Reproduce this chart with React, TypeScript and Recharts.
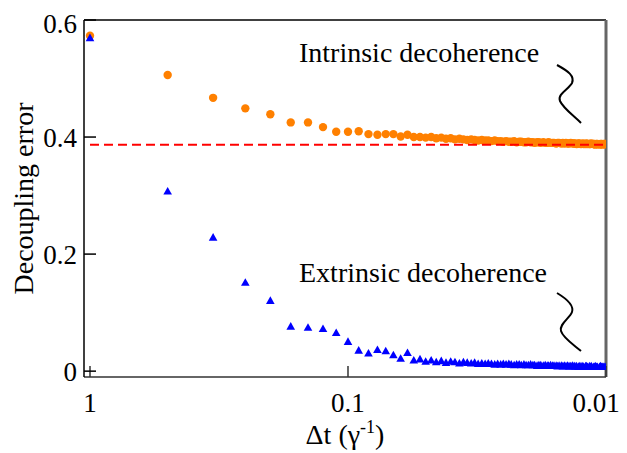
import { ScatterChart, Scatter, XAxis, YAxis, ReferenceLine } from 'recharts';

// time step between decoupling pulses, in units of 1/gamma
const DT = [
  1, 0.5, 0.3333, 0.25, 0.2, 0.1667, 0.1429, 0.125, 0.1111, 0.1,
  0.0909, 0.0833, 0.0769, 0.0714, 0.0667, 0.0625, 0.0588, 0.0556, 0.0526, 0.05,
  0.0476, 0.0455, 0.0435, 0.0417, 0.04, 0.0385, 0.037, 0.0357, 0.0345, 0.0333,
  0.0323, 0.0313, 0.0303, 0.0294, 0.0286, 0.0278, 0.027, 0.0263, 0.0256, 0.025,
  0.0244, 0.0238, 0.0233, 0.0227, 0.0222, 0.0217, 0.0213, 0.0208, 0.0204, 0.02,
  0.0196, 0.0192, 0.0189, 0.0185, 0.0182, 0.0179, 0.0175, 0.0172, 0.0169, 0.0167,
  0.0164, 0.0161, 0.0159, 0.0156, 0.0154, 0.0152, 0.0149, 0.0147, 0.0145, 0.0143,
  0.0141, 0.0139, 0.0137, 0.0135, 0.0133, 0.0132, 0.013, 0.0128, 0.0127, 0.0125,
  0.0123, 0.0122, 0.012, 0.0119, 0.0118, 0.0116, 0.0115, 0.0114, 0.0112, 0.0111,
  0.011, 0.0109, 0.0108, 0.0106, 0.0105, 0.0104, 0.0103, 0.0102, 0.0101, 0.01,
];

const INTRINSIC = [
  0.573, 0.506, 0.467, 0.449, 0.439, 0.425, 0.425, 0.417, 0.409, 0.409,
  0.41, 0.405, 0.404, 0.405, 0.405, 0.401, 0.404, 0.4, 0.4, 0.399,
  0.4, 0.398, 0.399, 0.397, 0.398, 0.396, 0.397, 0.396, 0.395, 0.396,
  0.395, 0.394, 0.395, 0.394, 0.394, 0.393, 0.394, 0.393, 0.393, 0.392,
  0.393, 0.392, 0.392, 0.393, 0.391, 0.392, 0.392, 0.391, 0.391, 0.392,
  0.391, 0.391, 0.39, 0.391, 0.391, 0.39, 0.391, 0.39, 0.39, 0.391,
  0.39, 0.39, 0.39, 0.389, 0.39, 0.39, 0.389, 0.39, 0.389, 0.39,
  0.389, 0.389, 0.39, 0.389, 0.389, 0.389, 0.388, 0.389, 0.389, 0.388,
  0.389, 0.388, 0.388, 0.389, 0.388, 0.388, 0.388, 0.389, 0.388, 0.388,
  0.387, 0.388, 0.388, 0.387, 0.388, 0.388, 0.387, 0.388, 0.388, 0.388,
];

const EXTRINSIC = [
  0.569, 0.307, 0.228, 0.151, 0.12, 0.076, 0.074, 0.072, 0.065, 0.05,
  0.035, 0.03, 0.036, 0.034, 0.027, 0.021, 0.031, 0.018, 0.02, 0.016,
  0.018, 0.015, 0.017, 0.014, 0.016, 0.015, 0.013, 0.015, 0.014, 0.013,
  0.014, 0.012, 0.013, 0.012, 0.013, 0.012, 0.011, 0.012, 0.011, 0.012,
  0.011, 0.012, 0.011, 0.01, 0.011, 0.011, 0.01, 0.011, 0.01, 0.01,
  0.011, 0.01, 0.01, 0.009, 0.01, 0.01, 0.009, 0.01, 0.009, 0.009,
  0.01, 0.009, 0.009, 0.009, 0.008, 0.009, 0.009, 0.008, 0.009, 0.008,
  0.009, 0.008, 0.008, 0.009, 0.008, 0.008, 0.008, 0.007, 0.008, 0.008,
  0.008, 0.007, 0.008, 0.008, 0.007, 0.008, 0.007, 0.008, 0.007, 0.007,
  0.008, 0.007, 0.007, 0.007, 0.008, 0.007, 0.007, 0.007, 0.007, 0.007,
];

const X_TICKS = [1, 0.1, 0.01];
const Y_TICKS = [0, 0.2, 0.4, 0.6];
const INTRINSIC_LIMIT = 0.387;

const intrinsicData = DT.map((dt, i) => ({ dt, err: INTRINSIC[i] }));
const extrinsicData = DT.map((dt, i) => ({ dt, err: EXTRINSIC[i] }));
// dashed limit line spans the whole dt range
const limitData = [
  { dt: DT[0], err: INTRINSIC_LIMIT },
  { dt: DT[DT.length - 1], err: INTRINSIC_LIMIT },
];

const FONT = '"Liberation Serif", "Times New Roman", serif';
const W = 619;
const H = 445;

function OrangeDot(props: any) {
  const { cx, cy } = props;
  return <circle cx={cx} cy={cy} r={4.2} fill="#ff8000" />;
}

function BlueTriangle(props: any) {
  const { cx, cy } = props;
  return (
    <polygon
      points={`${cx},${cy - 4.6} ${cx + 4.3},${cy + 3} ${cx - 4.3},${cy + 3}`}
      fill="#0000ff"
    />
  );
}

function NoShape() {
  return null;
}

function XTick(props: any) {
  const { x, y, payload } = props;
  const label = String(payload.value);
  // keep the last label inside the page
  const shift = payload.value === 0.01 ? -10 : 0;
  return (
    <text
      x={x + shift}
      y={y + 19}
      textAnchor="middle"
      fontFamily={FONT}
      fontSize={27}
      fill="#000"
    >
      {label}
    </text>
  );
}

function YLabel(props: any) {
  const vb = props.viewBox;
  const cy = vb.y + vb.height / 2;
  return (
    <text
      x={25}
      y={cy}
      transform={`rotate(-90, 25, ${cy})`}
      textAnchor="middle"
      fontFamily={FONT}
      fontSize={28}
      fill="#000"
    >
      Decoupling error
    </text>
  );
}

function XLabel(props: any) {
  const vb = props.viewBox;
  const cx = vb.x + vb.width / 2;
  return (
    <text x={cx} y={436} textAnchor="middle" fontFamily={FONT} fontSize={28} fill="#000">
      Δt (γ
      <tspan fontSize={18} dy={-11}>-1</tspan>
      <tspan dy={11}>)</tspan>
    </text>
  );
}

export default function App() {
  const tickStyle = { fontFamily: FONT, fontSize: 27, fill: '#000' };
  return (
    <div style={{ position: 'relative', width: W, height: H }}>
      <ScatterChart
        width={W}
        height={H}
        margin={{ top: 12, right: 21, left: 0, bottom: 0 }}
      >
        <XAxis
          type="number"
          dataKey="dt"
          scale="log"
          domain={[0.01, 1.055]}
          reversed
          allowDataOverflow
          ticks={X_TICKS}
          tick={<XTick />}
          tickSize={-11}
          tickMargin={27}
          tickLine={{ stroke: '#333', strokeWidth: 1.5 }}
          axisLine={{ stroke: '#333', strokeWidth: 1.5 }}
          height={76}
          label={<XLabel />}
        />
        <YAxis
          type="number"
          dataKey="err"
          domain={[-0.01, 0.6]}
          allowDataOverflow
          ticks={Y_TICKS}
          tickFormatter={(v) => String(v)}
          tick={tickStyle}
          tickSize={-12}
          tickMargin={19}
          tickLine={{ stroke: '#000', strokeWidth: 1.5 }}
          axisLine={{ stroke: '#000', strokeWidth: 1.5 }}
          width={76}
          label={<YLabel />}
        />
        <ReferenceLine y={0.6} stroke="#000" strokeWidth={1.5} />
        <ReferenceLine x={0.01} stroke="#666" strokeWidth={3} />
        <Scatter data={intrinsicData} shape={<OrangeDot />} isAnimationActive={false} />
        <Scatter
          data={limitData}
          shape={<NoShape />}
          line={{ stroke: '#ff0000', strokeWidth: 2, strokeDasharray: '9 5' }}
          isAnimationActive={false}
        />
        <Scatter data={extrinsicData} shape={<BlueTriangle />} isAnimationActive={false} />
      </ScatterChart>
      <svg
        width={W}
        height={H}
        style={{ position: 'absolute', left: 0, top: 0, pointerEvents: 'none', overflow: 'visible' }}
      >
        <text x={291} y={54} fontFamily={FONT} fontSize={28} fill="#000">
          Intrinsic decoherence
        </text>
        <text x={291} y={274} fontFamily={FONT} fontSize={28} fill="#000">
          Extrinsic decoherence
        </text>
        <path
          d="M549,57 C560,63 567,68 564,75 C561,81 549,86 552,93 C555,100 566,108 573,115"
          fill="none"
          stroke="#000"
          strokeWidth={2}
        />
        <path
          d="M549,285 C559,291 566,298 564,304 C562,310 551,316 553,323 C555,330 566,337 573,343"
          fill="none"
          stroke="#000"
          strokeWidth={2}
        />
      </svg>
    </div>
  );
}
